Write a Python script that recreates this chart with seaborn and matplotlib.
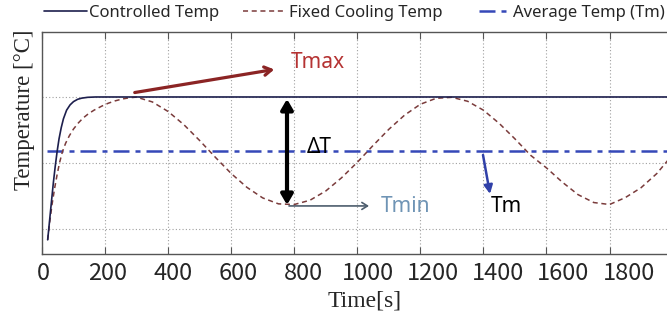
import matplotlib
matplotlib.use("Agg")
import matplotlib.pyplot as plt
import matplotlib.transforms as mtransforms
from matplotlib.lines import Line2D
import seaborn as sns
import pandas as pd

# ---------------- data ----------------
ctrl_time = [18, 24, 30, 36, 42, 48, 54, 61, 68, 78, 89, 100, 113, 126, 145, 170, 200,
             600, 1000, 1400, 1800, 1985]
ctrl_temp = [16.7, 22.5, 28.3, 34.0, 39.0, 43.5, 47.3, 50.7, 53.4, 56.0, 57.6, 58.6, 59.3, 59.65,
             59.9, 60.0, 60.0, 60.0, 60.0, 60.0, 60.0, 60.0]

fixed_time = [18, 25, 32, 40, 48, 56, 65, 75, 87, 100, 115, 130, 147, 165, 189, 210, 231, 255, 280,
              300, 350, 400, 450, 500,
              550, 600, 650, 700, 750, 800, 850, 900, 950, 1000, 1050, 1100, 1150, 1200, 1250, 1300,
              1350, 1400, 1450, 1500, 1550, 1600, 1650, 1700, 1750, 1800, 1850, 1900, 1950, 1985]
fixed_temp = [16.7, 22.5, 27.5, 32.3, 36.5, 40.2, 43.5, 46.0, 48.3, 50.3, 52.1, 53.6, 54.9, 56.0,
              57.2, 58.1, 58.8, 59.4, 59.8, 59.95,
              58.5, 55.6, 51.6, 46.8, 41.7, 36.8, 32.6, 29.4, 27.6, 27.4, 28.7, 31.5, 35.5, 40.2,
              45.3, 50.2, 54.5, 57.8, 59.6, 59.9, 58.7, 56.0, 52.0, 47.3, 42.3, 38.5, 34.2, 30.4,
              28.0, 27.4, 29.5, 32.5, 36.8, 40.8]

avg_time = [15, 1990]
avg_temp = [43.6, 43.6]

xticks = [0, 200, 400, 600, 800, 1000, 1200, 1400, 1600, 1800]
yticks = [20, 40, 60]
legend_labels = ["Controlled Temp", "Fixed Cooling Temp", "Average Temp (Tm)"]

# ---------------- style ----------------
sns.set_style("white")
plt.rcParams["font.family"] = ["Noto Sans", "DejaVu Sans"]

W, H = 667, 324
fig = plt.figure(figsize=(W / 100, H / 100), dpi=100)
ax = fig.add_axes([42 / W, 1 - 254 / H, 1 - 42 / W, (254 - 32) / H])

c_ctrl = "#1d1f4d"
c_fixed = "#7a3b3b"
c_avg = "#3548b8"

df_ctrl = pd.DataFrame({"t": ctrl_time, "v": ctrl_temp})
df_fixed = pd.DataFrame({"t": fixed_time, "v": fixed_temp})
df_avg = pd.DataFrame({"t": avg_time, "v": avg_temp})

sns.lineplot(data=df_avg, x="t", y="v", ax=ax, color=c_avg, lw=1.8, zorder=3)
ax.lines[-1].set_dashes((6.4, 2.4, 2.0, 2.4))
sns.lineplot(data=df_fixed, x="t", y="v", ax=ax, color=c_fixed, lw=1.1, zorder=4)
ax.lines[-1].set_dashes((3.3, 2.4))
sns.lineplot(data=df_ctrl, x="t", y="v", ax=ax, color=c_ctrl, lw=1.2, zorder=5)

ax.set_xlim(0, (W - 42) / 0.3153)
ax.set_ylim(12.4, 79.7)
ax.set_xticks(xticks)
ax.set_yticks(yticks)
ax.set_yticklabels([])
ax.grid(True, ls=(0, (1, 2)), color="#a0a0a0", lw=0.8)
ax.tick_params(axis="x", direction="in", length=5, width=0.8, color="#555555",
               top=True, bottom=True, pad=6, labelsize=17)
ax.tick_params(axis="y", left=False, right=False)
for lab in ax.get_xticklabels():
    lab.set_fontfamily(["Noto Sans CJK SC", "DejaVu Sans"])
for s in ["left", "bottom", "top"]:
    ax.spines[s].set_color("#555555")
    ax.spines[s].set_linewidth(1.0)
ax.spines["right"].set_visible(False)

# label drift as in reference
for val, lab in zip(xticks, ax.get_xticklabels()):
    dx = (1 + val * 0.0100) / 100
    lab.set_transform(lab.get_transform() + mtransforms.ScaledTranslation(dx, 0, fig.dpi_scale_trans))

ax.set_xlabel("Time[s]", fontfamily="Liberation Serif", fontsize=17)
ax.set_ylabel("Temperature [°C]", fontfamily="Liberation Serif", fontsize=16.5)
ax.xaxis.set_label_coords((365 - 42) / 625, (254 - 291) / 222)
ax.yaxis.set_label_coords((35 - 42) / 625, (254 - 110) / 222)


def px2d(x, y):
    return (x - 42) / 0.3153, 60 - (y - 97) / 3.3


# annotations
ax.annotate("", xy=px2d(277, 69), xytext=px2d(132, 93),
            arrowprops=dict(arrowstyle="->,head_length=0.5,head_width=0.3", color="#8b2424", lw=2.3))
ax.text(*px2d(291, 63), "Tmax", color="#b53333", fontsize=15, ha="left", va="center")

ax.annotate("", xy=px2d(287, 205), xytext=px2d(287, 99),
            arrowprops=dict(arrowstyle="<|-|>,head_length=0.6,head_width=0.35", color="black",
                            lw=3.0, shrinkA=0, shrinkB=0))
ax.text(*px2d(307, 148), "ΔT", color="black", fontsize=15, ha="left", va="center")

ax.annotate("", xy=px2d(369, 206), xytext=px2d(289, 206),
            arrowprops=dict(arrowstyle="->,head_length=0.4,head_width=0.25", color="#4d5d6d", lw=1.2,
                            shrinkA=0, shrinkB=0))
ax.text(*px2d(381, 207), "Tmin", color="#6f94b5", fontsize=15, ha="left", va="center")

ax.annotate("", xy=px2d(490, 194), xytext=px2d(483, 155),
            arrowprops=dict(arrowstyle="-|>,head_length=0.5,head_width=0.25", color="#3040a8", lw=1.8,
                            shrinkA=0, shrinkB=0))
ax.text(*px2d(491, 207), "Tm", color="black", fontsize=15, ha="left", va="center")

# legends (top)
fs = 12
fs_px = fs * 100 / 72
h1 = Line2D([], [], color=c_ctrl, lw=1.2)
h2 = Line2D([], [], color=c_fixed, lw=1.1, dashes=(3.3, 2.4))
h3 = Line2D([], [], color=c_avg, lw=1.8, dashes=(6.4, 2.4, 2.0, 2.4))
for h, lab, x0, L, gap in [(h1, legend_labels[0], 44, 43, 2),
                           (h2, legend_labels[1], 243, 40, 6),
                           (h3, legend_labels[2], 479, 29, 5)]:
    fig.legend(handles=[h], labels=[lab], loc="center left", bbox_to_anchor=(x0 / W, 1 - 13 / H),
               frameon=False, borderpad=0, borderaxespad=0, handlelength=L / fs_px,
               handletextpad=gap / fs_px, fontsize=fs)

fig.savefig("out.png", dpi=100)
